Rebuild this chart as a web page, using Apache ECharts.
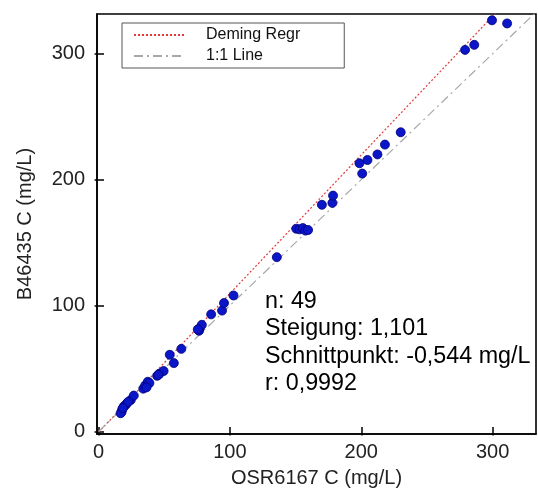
<!DOCTYPE html>
<html>
<head>
<meta charset="utf-8">
<script src="https://cdn.jsdelivr.net/npm/echarts@6/dist/echarts.min.js"></script>
<style>html,body{margin:0;padding:0;background:#fff}#c{width:538px;height:496px}</style>
</head>
<body>
<div id="c"></div>
<script>
// Reference method values (OSR6167 C, mg/L)
var xValues = [17.5,18.0,19.2,20.5,21.7,24.5,26.8,34.0,35.5,37.5,38.7,44.6,46.5,49.5,57.3,54.2,63.0,
  76.5,77.0,78.6,75.5,85.7,94.0,95.5,102.7,135.7,150.5,153.0,155.5,157.5,159.5,170.0,178.0,178.5,
  198.6,200.7,204.7,212.3,218.0,230.0,279.0,286.0,299.5,311.0,
  16.8,22.5,36.5,45.5,18.5];
// Test method values (B46435 C, mg/L)
var yValues = [15.5,17.5,19.8,21.0,22.5,25.0,28.5,34.0,36.5,39.5,38.5,44.2,46.0,48.0,54.3,60.9,65.6,
  80.0,82.0,84.7,81.0,93.0,96.0,102.0,108.0,138.4,161.0,160.5,161.5,159.5,160.0,180.0,181.5,187.3,
  213.0,204.8,215.6,220.0,227.8,237.6,303.0,307.0,326.5,324.0,
  14.5,23.5,35.0,45.0,18.5];
var demingSlope = 1.101;
var demingIntercept = -0.544;
var lineXRange = [0, 333];
var xTicks = [0, 100, 200, 300];
var yTicks = [0, 100, 200, 300];
var statLines = ['n: 49', 'Steigung: 1,101', 'Schnittpunkt: -0,544 mg/L', 'r: 0,9992'];

var points = xValues.map(function (x, i) { return [x, yValues[i]]; });
var demingLine = lineXRange.map(function (x) { return [x, demingSlope * x + demingIntercept]; });
var identityLine = lineXRange.map(function (x) { return [x, x]; });

var font = 'Liberation Sans, Arial, sans-serif';
var XMIN = -1.2, XMAX = 333, YMIN = -2, YMAX = 331.5;
function outsideTicks(ticks, min, max) {
  return {
    type: 'value', min: min, max: max,
    axisLine: {show: false},
    axisTick: {show: true, inside: false, length: 4, customValues: ticks, lineStyle: {color: '#000', width: 1.5}},
    axisLabel: {show: false},
    splitLine: {show: false}
  };
}
var chart = echarts.init(document.getElementById('c'), null, {renderer: 'canvas'});
chart.setOption({
  animation: false,
  backgroundColor: '#fff',
  grid: {left: 97, right: 2, top: 14, bottom: 62, show: true, borderColor: '#000', borderWidth: 1.6, backgroundColor: 'transparent'},
  legend: {
    data: ['Deming Regr', '1:1 Line'],
    orient: 'vertical',
    left: 122, top: 23,
    borderColor: '#555', borderWidth: 1,
    padding: [4, 44, 4, 11],
    itemWidth: 51, itemHeight: 14, itemGap: 5,
    selectedMode: false,
    itemStyle: {opacity: 0},
    textStyle: {fontFamily: font, fontSize: 16, color: '#111', padding: [0, 0, 0, 16]}
  },
  xAxis: [{
    type: 'value', min: XMIN, max: XMAX,
    name: 'OSR6167 C (mg/L)', nameLocation: 'middle', nameGap: 34,
    nameTextStyle: {fontFamily: font, fontSize: 20, color: '#222'},
    axisLine: {onZero: false, lineStyle: {color: '#000', width: 1.5}},
    axisTick: {inside: true, length: 7, customValues: xTicks, lineStyle: {color: '#000', width: 1.5}},
    axisLabel: {customValues: xTicks, margin: 8, fontFamily: font, fontSize: 20, color: '#222'},
    splitLine: {show: false}
  }, Object.assign(outsideTicks(xTicks, XMIN, XMAX), {position: 'bottom'})],
  yAxis: [{
    type: 'value', min: YMIN, max: YMAX,
    name: 'B46435 C (mg/L)', nameLocation: 'middle', nameGap: 62,
    nameTextStyle: {fontFamily: font, fontSize: 20, color: '#222'},
    axisLine: {onZero: false, lineStyle: {color: '#000', width: 1.5}},
    axisTick: {inside: true, length: 7, customValues: yTicks, lineStyle: {color: '#000', width: 1.5}},
    axisLabel: {customValues: yTicks, margin: 12, fontFamily: font, fontSize: 20, color: '#222'},
    splitLine: {show: false}
  }, Object.assign(outsideTicks(yTicks, YMIN, YMAX), {position: 'left'})],
  series: [
    {
      name: 'Deming Regr', type: 'line', data: demingLine, symbol: 'none', clip: true, z: 2,
      lineStyle: {color: '#e23a3a', width: 1.2, type: [2, 2]}, itemStyle: {color: '#e23a3a'}
    },
    {
      name: '1:1 Line', type: 'line', data: identityLine, symbol: 'none', clip: true, z: 2,
      lineStyle: {color: '#a8a8a8', width: 1.2, type: [9, 4, 2, 4]}, itemStyle: {color: '#a8a8a8'}
    },
    {
      name: 'Daten', type: 'scatter', data: points, symbolSize: 9, z: 3,
      itemStyle: {color: '#0b16c9', borderColor: '#00007a', borderWidth: 0.8, opacity: 1}
    }
  ],
  graphic: statLines.map(function (t, i) {
    return {type: 'text', left: 265, top: 290 + i * 27.5, z: 10,
      style: {text: t, fontFamily: font, fontSize: 23.3, fill: '#000'}};
  })
});
</script>
</body>
</html>
